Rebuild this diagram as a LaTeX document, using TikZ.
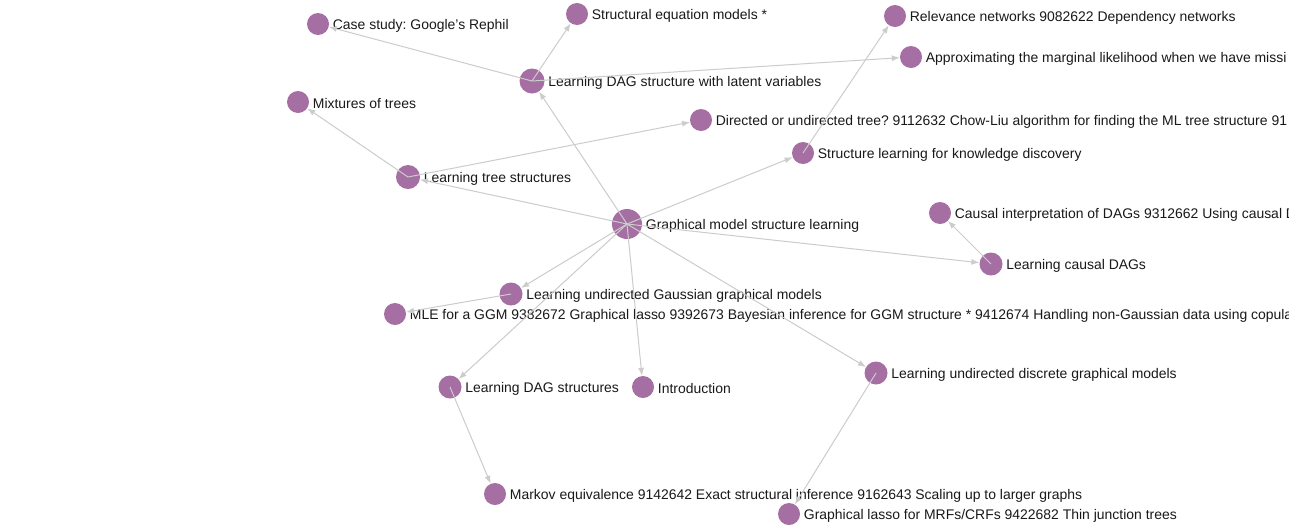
\documentclass[tikz,border=0pt]{standalone}
\usepackage{fontspec}
\setmainfont{Liberation Sans}
\frenchspacing
\usetikzlibrary{arrows.meta}
\definecolor{nodepurple}{RGB}{166,111,163}
\definecolor{edgegrey}{RGB}{204,204,204}
\definecolor{txt}{RGB}{25,25,25}
\tikzset{
  dot/.style={circle, fill=nodepurple, draw=none, inner sep=0pt, minimum size=22pt},
  lbl/.style={inner sep=0pt, text=txt, font=\fontsize{13.95pt}{16pt}\selectfont\frenchspacing, label distance=3.5pt, yshift=-1.5pt},
  edge/.style={draw=edgegrey, line width=1pt, -{Latex[length=8pt,width=6pt]}}
}
\begin{document}
\begin{tikzpicture}[x=1pt,y=-1pt]
\clip (0,0) rectangle (1289,528);
\fill[white] (0,0) rectangle (1289,528);
\node[dot, label={[lbl]right:Case study: Google’s Rephil}] (cs) at (318,24) {};
\node[dot, label={[lbl]right:Structural equation models *}] (sem) at (577,14) {};
\node[dot, label={[lbl]right:Relevance networks 9082622 Dependency networks}] (rel) at (895,16) {};
\node[dot, label={[lbl]right:Approximating the marginal likelihood when we have missi}] (appr) at (911,57) {};
\node[dot, minimum size=25pt, label={[lbl]right:Learning DAG structure with latent variables}] (ldl) at (532,81) {};
\node[dot, label={[lbl]right:Mixtures of trees}] (mix) at (298,102) {};
\node[dot, label={[lbl]right:Directed or undirected tree? 9112632 Chow-Liu algorithm for finding the ML tree structure 91}] (dir) at (701,120) {};
\node[dot, label={[lbl]right:Structure learning for knowledge discovery}] (skd) at (803,153) {};
\node[dot, minimum size=24pt, label={[lbl]right:Learning tree structures}] (lts) at (408,177) {};
\node[dot, minimum size=30pt, label={[lbl]right:Graphical model structure learning}] (gm) at (627,224) {};
\node[dot, label={[lbl]right:Causal interpretation of DAGs 9312662 Using causal D}] (ci) at (940,213) {};
\node[dot, minimum size=23pt, label={[lbl]right:Learning causal DAGs}] (lcd) at (991,264) {};
\node[dot, minimum size=23pt, label={[lbl]right:Learning undirected Gaussian graphical models}] (lug) at (511,294) {};
\node[dot, label={[lbl]right:MLE for a GGM 9382672 Graphical lasso 9392673 Bayesian inference for GGM structure * 9412674 Handling non-Gaussian data using copulas}] (mle) at (395,314) {};
\node[dot, minimum size=23pt, label={[lbl]right:Learning undirected discrete graphical models}] (lud) at (876,373) {};
\node[dot, minimum size=23pt, label={[lbl]right:Learning DAG structures}] (lds) at (450,387) {};
\node[dot, label={[lbl]right:Introduction}] (intro) at (643,387) {};
\node[dot, label={[lbl]right:Markov equivalence 9142642 Exact structural inference 9162643 Scaling up to larger graphs}] (mk) at (495,494) {};
\node[dot, label={[lbl]right:Graphical lasso for MRFs/CRFs 9422682 Thin junction trees}] (glm) at (789,514) {};
\foreach \s/\t in {gm/ldl, gm/lts, gm/skd, gm/lcd, gm/lug, gm/lds, gm/intro, gm/lud,
  ldl/cs, ldl/sem, ldl/appr, lts/mix, lts/dir, skd/rel, lcd/ci, lug/mle, lds/mk, lud/glm}
  \draw[edge] (\s.center) -- (\t);
\end{tikzpicture}
\end{document}
